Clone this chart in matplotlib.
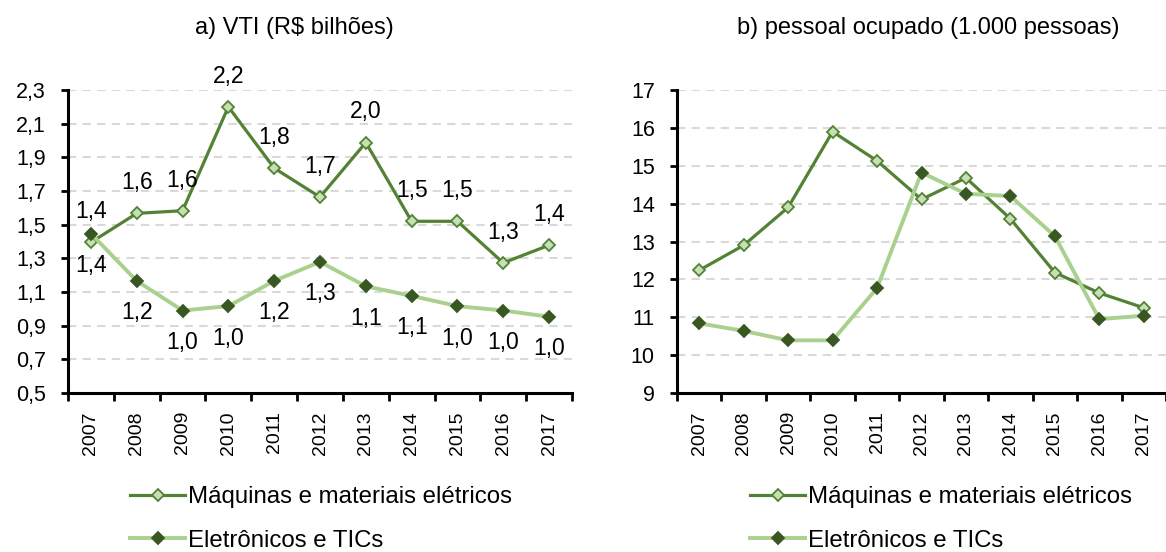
import numpy as np
import matplotlib.pyplot as plt

plt.rcParams['font.family'] = ['Liberation Sans', 'DejaVu Sans']

anos = ['2007', '2008', '2009', '2010', '2011', '2012', '2013', '2014', '2015', '2016', '2017']

# a) VTI (R$ bilhoes)
vti_maq = [1.395, 1.567, 1.583, 2.20, 1.836, 1.664, 1.988, 1.52, 1.52, 1.273, 1.378]
vti_ele = [1.447, 1.166, 0.99, 1.016, 1.166, 1.279, 1.134, 1.077, 1.016, 0.99, 0.953]

# b) pessoal ocupado (1.000 pessoas)
po_maq = [12.24, 12.90, 13.90, 15.90, 15.13, 14.11, 14.68, 13.60, 12.18, 11.64, 11.25]
po_ele = [10.84, 10.64, 10.39, 10.39, 11.77, 14.82, 14.26, 14.20, 13.14, 10.95, 11.04]

nomes = ['Máquinas e materiais elétricos', 'Eletrônicos e TICs']
c_maq, c_maq_face = '#548235', '#c5e0b4'
c_ele, c_ele_mk = '#a9d18e', '#385723'

W, H = 1166, 552
fig = plt.figure(figsize=(W / 100, H / 100), dpi=100)

def px_axes(x0, x1, y0, y1):
    return fig.add_axes([x0 / W, 1 - y1 / H, (x1 - x0) / W, (y1 - y0) / H])

ax1 = px_axes(68, 572, 90, 393)
ax2 = px_axes(677, 1166, 90, 393)

def estilo(ax, yticks, ylabels, xmax):
    x = np.arange(len(anos))
    ax.set_xlim(-0.5, xmax)
    ax.set_ylim(yticks[0], yticks[-1])
    ax.set_yticks(yticks, ylabels)
    ax.set_xticks(x, anos, rotation=90)
    ax.set_xticks(np.arange(-0.5, len(anos)), minor=True)
    ax.tick_params(axis='x', which='major', length=0, pad=13, labelsize=14)
    ax.tick_params(axis='x', which='minor', length=6, width=2)
    ax.tick_params(axis='y', length=5, width=2, pad=11, labelsize=15.5)
    for s in ['top', 'right']:
        ax.spines[s].set_visible(False)
    for s in ['left', 'bottom']:
        ax.spines[s].set_linewidth(2.2)
    for yv in yticks[1:]:
        ax.axhline(yv, color='#d9d9d9', lw=1.5, ls=(0, (4, 3)), zorder=0)

def linhas(ax, maq, ele):
    x = np.arange(len(anos))
    l1, = ax.plot(x, maq, color=c_maq, lw=2.3, marker='D', ms=6,
                  mfc=c_maq_face, mec=c_maq, mew=1.3, label=nomes[0], zorder=3)
    l2, = ax.plot(x, ele, color=c_ele, lw=2.8, marker='D', ms=6,
                  mfc=c_ele_mk, mec=c_ele_mk, mew=1.3, label=nomes[1], zorder=3)
    return l1, l2

# painel a
yt1 = np.round(np.arange(0.5, 2.31, 0.2), 1)
estilo(ax1, yt1, [f'{v:.1f}'.replace('.', ',') for v in yt1], 10.5)
h1 = linhas(ax1, vti_maq, vti_ele)
for i in range(len(anos)):
    ax1.annotate(f'{vti_maq[i]:.1f}'.replace('.', ','), (i, vti_maq[i]), xytext=(0, 22),
                 textcoords='offset points', ha='center', va='center', fontsize=16.5)
    ax1.annotate(f'{vti_ele[i]:.1f}'.replace('.', ','), (i, vti_ele[i]), xytext=(0, -23),
                 textcoords='offset points', ha='center', va='center', fontsize=16.5)

# painel b
yt2 = np.arange(9, 18)
estilo(ax2, yt2, [str(v) for v in yt2], 10.37)
h2 = linhas(ax2, po_maq, po_ele)

fig.text(294 / W, 1 - 28 / H, 'a) VTI (R$ bilhões)', ha='center', va='center', fontsize=17)
fig.text(928 / W, 1 - 28 / H, 'b) pessoal ocupado (1.000 pessoas)', ha='center', va='center', fontsize=17)

for hs, x0 in [(h1, 130), (h2, 750)]:
    fig.legend(hs, nomes, loc='upper left', bbox_to_anchor=(x0 / W, 1 - 486 / H),
               frameon=False, fontsize=17.3, handlelength=2.3, handletextpad=0.12,
               labelspacing=0.9, borderpad=0, borderaxespad=0)

fig.savefig('out.png', dpi=100)
